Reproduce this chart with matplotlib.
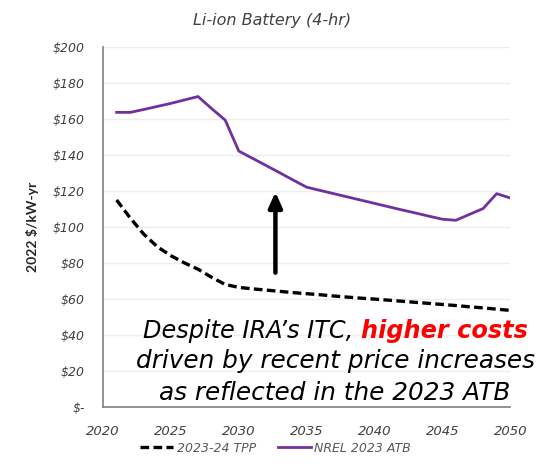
import matplotlib
matplotlib.use('Agg')
import matplotlib.pyplot as plt

plt.rcParams['font.family'] = ['DejaVu Sans']

years = list(range(2021, 2051))
tpp = [115, 105, 96, 89, 84, 80, 76.5, 72, 68, 66.4,
       65.6, 64.9, 64.2, 63.5, 62.9, 62.3, 61.6, 61.0, 60.4, 59.9,
       59.3, 58.7, 58.1, 57.5, 56.9, 56.3, 55.6, 55.0, 54.3, 53.6]
atb = [163.7, 163.7, 165.3, 167.0, 168.7, 170.6, 172.5, 165.8, 159.4, 142.2,
       138.2, 134.2, 130.2, 126.1, 122.1, 120.3, 118.5, 116.7, 114.9, 113.1,
       111.3, 109.5, 107.8, 106.0, 104.3, 103.7, 107.0, 110.2, 118.5, 116.1]
yticks = [0, 20, 40, 60, 80, 100, 120, 140, 160, 180, 200]
ylabels = ['$-', '$20', '$40', '$60', '$80', '$100', '$120', '$140', '$160', '$180', '$200']
xticks = [2020, 2025, 2030, 2035, 2040, 2045, 2050]

W, H = 557, 466
fig = plt.figure(figsize=(W / 100, H / 100), dpi=100)
ax = fig.add_axes([0.185, 0.127, 0.731, 0.772])

ax.plot(years, tpp, color='black', lw=2.4, ls=(0, (2.6, 1.3)), label='2023-24 TPP')
ax.plot(years, atb, color='#7030A0', lw=2.0, label='NREL 2023 ATB')

ax.set_xlim(2020, 2050)
ax.set_ylim(0, 200)
ax.set_yticks(yticks)
ax.set_yticklabels(ylabels)
ax.set_xticks(xticks)
ax.tick_params(length=0, labelsize=9, labelcolor='#404040')
for lab in ax.get_xticklabels() + ax.get_yticklabels():
    lab.set_fontstyle('italic')
ax.tick_params(axis='y', pad=13)
ax.tick_params(axis='x', pad=13, labelsize=9.5)
ax.grid(axis='y', color='#eeeeee', lw=1)
ax.set_axisbelow(True)
for s in ['top', 'right']:
    ax.spines[s].set_visible(False)
for s in ['left', 'bottom']:
    ax.spines[s].set_color('#808080')
    ax.spines[s].set_linewidth(1.2)

ax.set_ylabel('2022 $/kW-yr', fontsize=10, fontweight='bold', color='#262626',
              labelpad=10, family='Lato')
fig.text(272 / W, 1 - 20 / H, 'Li-ion Battery (4-hr)', fontsize=11.5, style='italic',
         color='#404040', ha='center', va='center')

ax.annotate('', xy=(2032.7, 121), xytext=(2032.7, 73),
            arrowprops=dict(arrowstyle='-|>,head_width=0.4,head_length=0.9',
                            color='black', lw=3.2))

# message text, first line in two colours
fs = 17.3
cx = 335 / W
a = fig.text(0, 1 - 338 / H, "Despite IRA\u2019s ITC, ", fontsize=fs, style='italic',
             color='black', va='baseline')
b = fig.text(0, 1 - 338 / H, "higher costs", fontsize=fs, style='italic',
             fontweight='bold', color='red', va='baseline')
fig.canvas.draw()
r = fig.canvas.get_renderer()
wa = a.get_window_extent(r).width / W
wb = b.get_window_extent(r).width / W
x0 = cx - (wa + wb) / 2
a.set_x(x0)
b.set_x(x0 + wa)
fig.text(cx, 1 - 368 / H, 'driven by recent price increases', fontsize=17.8,
         style='italic', ha='center', va='baseline')
fig.text(cx, 1 - 400 / H, 'as reflected in the 2023 ATB', fontsize=17.8,
         style='italic', ha='center', va='baseline')

leg = fig.legend(loc='center', bbox_to_anchor=(0.495, 1 - 448 / H), ncol=2, frameon=False,
                 fontsize=9, handlelength=2.6, columnspacing=1.8, handletextpad=0.3)
for txt in leg.get_texts():
    txt.set_color('#595959')
    txt.set_fontstyle('italic')

fig.savefig('out.png', dpi=100)
